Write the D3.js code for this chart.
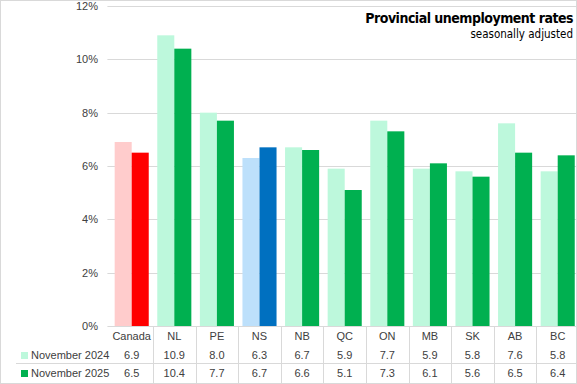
<!DOCTYPE html>
<html>
<head>
<meta charset="utf-8">
<script src="https://cdn.jsdelivr.net/npm/d3@7"></script>
<style>
  body { margin: 0; background: #fff; }
  svg { display: block; font-family: "Liberation Sans", Arial, sans-serif; }
</style>
</head>
<body>
<svg id="canvas"></svg>
<script>
//--data
let regions = ["Canada", "NL", "PE", "NS", "NB", "QC", "ON", "MB", "SK", "AB", "BC"];
let seriesNames = ["November 2024", "November 2025"];
let nov2024 = [6.9, 10.9, 8.0, 6.3, 6.7, 5.9, 7.7, 5.9, 5.8, 7.6, 5.8];
let nov2025 = [6.5, 10.4, 7.7, 6.7, 6.6, 5.1, 7.3, 6.1, 5.6, 6.5, 6.4];
let yTicks = [0, 2, 4, 6, 8, 10, 12];
//--

let width = 577;
let height = 384;

let canvas = d3.select("#canvas")
canvas.attr("width", width)
canvas.attr("height", height)

// outer chart border
canvas.append("rect")
    .attr("x", 0.5).attr("y", 0.5)
    .attr("width", width - 1).attr("height", height - 1)
    .attr("fill", "none").attr("stroke", "#d9d9d9")

let plotLeft = 110.4;
let plotRight = 579;

let x = d3.scaleBand()
    .domain(regions)
    .range([plotLeft, plotRight])
    .paddingInner(0.2)
    .paddingOuter(0.1)

let xCol = d3.scaleBand()
    .domain(regions)
    .range([plotLeft, plotRight])

let xSub = d3.scaleBand()
    .domain(seriesNames)
    .range([0, x.bandwidth()])

let y = d3.scaleLinear()
    .domain([0, 12])
    .range([326, 6])

// gridlines
canvas.append("g")
    .selectAll("line")
    .data(yTicks.filter(d => d > 0))
    .enter()
    .append("line")
    .attr("x1", plotLeft - 3)
    .attr("x2", width)
    .attr("y1", d => Math.round(y(d)) + 0.5)
    .attr("y2", d => Math.round(y(d)) + 0.5)
    .attr("stroke", "#d9d9d9")

// y labels
canvas.append("g")
    .selectAll("text")
    .data(yTicks)
    .enter()
    .append("text")
    .attr("x", 98)
    .attr("y", d => y(d) + 4)
    .attr("text-anchor", "end")
    .attr("font-size", 11)
    .attr("fill", "#404040")
    .text(d => d + "%")

let colorFor = (region, i) => {
    if (region === "Canada") return i === 0 ? "#ffcccc" : "#ff0000"
    if (region === "NS") return i === 0 ? "#bde0fb" : "#0070c0"
    return i === 0 ? "#bdf8dc" : "#00b050"
}

let values = [nov2024, nov2025];

seriesNames.forEach((s, i) => {
    canvas.append("g")
        .selectAll("rect")
        .data(regions)
        .enter()
        .append("rect")
        .attr("x", d => x(d) + xSub(s))
        .attr("width", xSub.bandwidth())
        .attr("y", (d, j) => y(values[i][j]))
        .attr("height", (d, j) => y(0) - y(values[i][j]))
        .attr("fill", (d, j) => colorFor(d, i))
})

// axis line
canvas.append("line")
    .attr("x1", plotLeft - 3).attr("x2", width)
    .attr("y1", 326.5).attr("y2", 326.5)
    .attr("stroke", "#d9d9d9")

// data table
let rowY = [336, 355, 373];

canvas.append("g")
    .selectAll("line")
    .data(regions.slice(1))
    .enter()
    .append("line")
    .attr("x1", d => Math.round(xCol(d)) + 0.5)
    .attr("x2", d => Math.round(xCol(d)) + 0.5)
    .attr("y1", 326)
    .attr("y2", height)
    .attr("stroke", "#d9d9d9")

canvas.append("line")
    .attr("x1", 16).attr("x2", width)
    .attr("y1", 363.5).attr("y2", 363.5)
    .attr("stroke", "#d9d9d9")

canvas.append("g")
    .selectAll("text")
    .data(regions)
    .enter()
    .append("text")
    .attr("x", d => xCol(d) + xCol.bandwidth() / 2)
    .attr("y", rowY[0] + 4)
    .attr("text-anchor", "middle")
    .attr("font-size", 11)
    .attr("fill", "#404040")
    .text(d => d)

values.forEach((vals, i) => {
    canvas.append("g")
        .selectAll("text")
        .data(vals)
        .enter()
        .append("text")
        .attr("x", (d, j) => xCol(regions[j]) + xCol.bandwidth() / 2)
        .attr("y", rowY[i + 1] + 4)
        .attr("text-anchor", "middle")
        .attr("font-size", 11)
        .attr("fill", "#404040")
        .text(d => d.toFixed(1))

    canvas.append("rect")
        .attr("x", 21)
        .attr("y", rowY[i + 1] - 3)
        .attr("width", 7)
        .attr("height", 7)
        .attr("fill", colorFor("NL", i))

    canvas.append("text")
        .attr("x", 31)
        .attr("y", rowY[i + 1] + 4)
        .attr("font-size", 11)
        .attr("fill", "#404040")
        .text(seriesNames[i])
})

// title
canvas.append("text")
    .attr("x", 573)
    .attr("y", 23)
    .attr("text-anchor", "end")
    .attr("font-family", "'DejaVu Sans Condensed', 'DejaVu Sans', sans-serif")
    .attr("font-weight", "bold")
    .attr("font-size", 14)
    .attr("letter-spacing", -0.5)
    .attr("fill", "#000")
    .text("Provincial unemployment rates")

canvas.append("text")
    .attr("x", 573)
    .attr("y", 38)
    .attr("text-anchor", "end")
    .attr("font-family", "'DejaVu Sans Condensed', 'DejaVu Sans', sans-serif")
    .attr("font-size", 11.5)
    .attr("fill", "#000")
    .text("seasonally adjusted")
</script>
</body>
</html>
